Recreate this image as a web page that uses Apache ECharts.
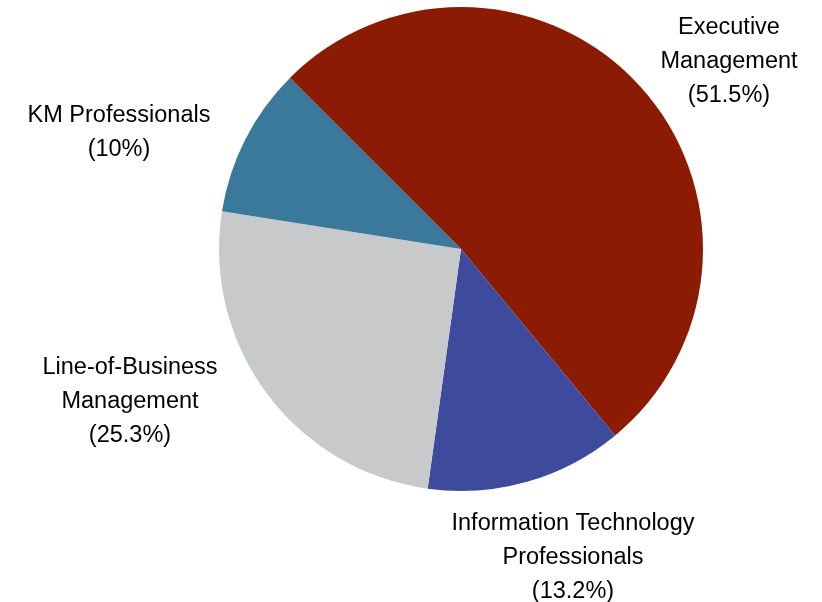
<!DOCTYPE html>
<html>
<head>
<meta charset="utf-8">
<script src="https://cdn.jsdelivr.net/npm/echarts@6/dist/echarts.min.js"></script>
<style>
  html, body { margin: 0; padding: 0; background: #fff; }
  #pieChart { width: 822px; height: 602px; }
</style>
</head>
<body>
<div id="pieChart"></div>
<script>
// slice names as printed (line breaks included) and their shares in percent
const categories = [
  "Executive\nManagement",
  "Information Technology\nProfessionals",
  "Line-of-Business\nManagement",
  "KM Professionals"
];
const shares = [51.5, 13.2, 25.3, 10];
const colors = ["#8b1c03", "#3e4a9c", "#c8c9cb", "#3a799b"];

// where each label block is centred
const labelSpots = [
  [729, 62],
  [573, 558],
  [130, 402],
  [119, 133]
];

let myChart = echarts.init(document.getElementById("pieChart"));

let option = {
  animation: false,
  series: [
    {
      type: "pie",
      center: [461, 249],
      radius: [0, 242],
      startAngle: 135,
      clockwise: true,
      data: categories.map((name, i) => ({
        name: name,
        value: shares[i],
        itemStyle: { color: colors[i] }
      })),
      label: {
        show: true,
        position: "outside",
        formatter: p => p.name + "\n(" + p.value + "%)",
        color: "#000",
        fontFamily: "Liberation Sans, Arial, sans-serif",
        fontSize: 23.5,
        lineHeight: 34,
        align: "center",
        overflow: "none"
      },
      labelLine: { show: false },
      labelLayout: p => ({
        x: labelSpots[p.dataIndex][0],
        y: labelSpots[p.dataIndex][1],
        align: "center",
        verticalAlign: "middle"
      }),
      emphasis: { disabled: true }
    }
  ]
};

myChart.setOption(option);
</script>
</body>
</html>
